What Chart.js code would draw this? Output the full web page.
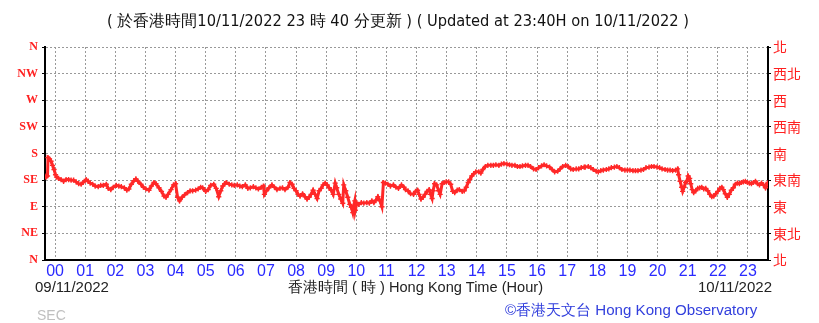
<!DOCTYPE html>
<html>
<head>
<meta charset="utf-8">
<script src="https://cdn.jsdelivr.net/npm/chart.js@4/dist/chart.umd.min.js"></script>
<style>
  html, body { margin: 0; padding: 0; background: #fff; }
  #wrap { position: relative; width: 819px; height: 323px; overflow: hidden; }
  canvas { position: absolute; left: 0; top: 0; }
  .t { position: absolute; white-space: nowrap; line-height: 1; }
</style>
</head>
<body>
<div id="wrap">
  <canvas id="c" width="819" height="323"></canvas>
  <div class="t" id="title" style="left:107px; top:13px; font-family:'Liberation Sans Narrow','DejaVu Sans Condensed',sans-serif; font-size:16.3px; color:#111;">( 於香港時間10/11/2022 23 時 40 分更新 ) ( Updated at 23:40H on 10/11/2022 )</div>
  <div class="t" style="left:35px; top:279px; font-family:'Liberation Sans Narrow',sans-serif; font-size:15px; color:#222;">09/11/2022</div>
  <div class="t" style="left:288px; top:280px; font-family:'Liberation Sans Narrow',sans-serif; font-size:14.6px; color:#222;">香港時間 ( 時 ) Hong Kong Time (Hour)</div>
  <div class="t" style="right:47px; top:279px; font-family:'Liberation Sans Narrow',sans-serif; font-size:15px; color:#222;">10/11/2022</div>
  <div class="t" style="left:37px; top:308px; font-family:'Liberation Sans Narrow',sans-serif; font-size:14px; color:#c0c0c0;">SEC</div>
  <div class="t" style="left:505px; top:302px; font-family:'Liberation Sans Narrow',sans-serif; font-size:15.1px; color:#3340dd;">©香港天文台 Hong Kong Observatory</div>
</div>
<script>
// ---- data ----
const hourLabels = ['00','01','02','03','04','05','06','07','08','09','10','11','12','13','14','15','16','17','18','19','20','21','22','23'];
const dirLabelsEn = ['N','NE','E','SE','S','SW','W','NW','N'];
const dirLabelsZh = ['北','東北','東','東南','南','西南','西','西北','北'];

// minutes after 00:00 on 10/11/2022 (negative = 09/11/2022)
const timeMinutes = [
 -20,-18,-15,-14,-11,-8,-5,-2,1,3,7,12,17,22,27,32,37,42,47,52,56,62,66,70,75,80,86,91,96,102,106,111,116,122,127,132,138,143,147,152,157,161,165,171,176,181,187,192,197,201,207,212,217,221,225,231,236,240,244,248,253,258,264,269,274,280,285,290,294,300,305,310,316,321,326,330,334,338,
 341,347,352,357,363,368,373,379,384,389,395,400,405,411,415,417,421,426,432,437,442,448,453,458,464,468,472,476,480,484,488,493,498,502,506,510,514,518,522,526,530,534,538,542,546,550,554,558,561,565,569,573,575,579,583,587,590,593,595,597,598,601,605,610,615,621,626,631,635,639,643,647,651,654,658,663,668,674,679,684,690,695,
 698,703,708,714,718,722,725,729,733,737,741,745,748,751,753,756,760,764,767,771,775,779,784,788,792,796,801,805,811,815,819,823,826,830,834,838,844,848,852,857,862,868,873,878,884,889,894,900,905,910,916,921,926,931,937,942,947,953,958,963,969,974,979,985,990,995,1001,1006,1011,1017,1022,1027,1032,1038,1043,1048,1054,
 1056,1062,1067,1072,1078,1082,1087,1092,1098,1103,1108,1114,1119,1124,1129,1135,1140,1145,1151,1156,1161,1167,1172,1177,1183,1188,1193,1199,1204,1209,1215,1220,1225,1230,1236,1240,1242,1245,1248,1250,1253,1256,1258,1261,1264,1266,1269,1272,1276,1280,1284,1288,1292,1296,1300,1304,1308,1312,1316,1320,1324,1328,1331,1335,1339,1343,1347,1351,1355,1359,1363,1367,1371,1375,1379,1383,1387,1391,1395,1399,1403,1407,1411,1415,1419,1420
];
// wind direction in degrees
const windDirection = [
 142,140,142,173,171,167,160,153,144,140,138,136,133,136,136,135,135,132,129,128,131,136,133,130,128,125,124,126,126,128,121,119,123,126,125,124,122,118,120,128,134,137,133,128,123,120,118,125,131,129,122,116,108,106,111,119,127,129,106,100,106,110,114,117,117,118,120,123,122,116,119,126,128,121,107,117,125,129,
 131,128,127,126,127,125,124,127,121,122,124,122,120,123,125,111,117,122,127,123,119,121,122,119,123,131,128,121,117,111,108,112,107,103,106,111,118,111,104,117,121,127,130,127,122,118,111,130,122,111,103,96,127,117,106,94,89,80,92,100,84,96,94,97,96,97,96,100,97,101,107,100,90,131,130,128,125,127,123,121,127,123,
 119,117,112,111,116,118,111,103,106,111,116,119,111,104,117,129,127,117,111,129,131,132,132,128,116,114,118,119,116,117,123,131,136,142,146,149,149,147,153,158,160,160,160,161,160,162,163,162,161,160,160,158,158,159,160,160,158,154,153,156,159,161,159,157,153,149,150,154,158,160,158,154,153,154,154,156,157,
 157,158,156,153,150,149,151,152,153,154,156,157,158,156,153,152,152,152,151,151,151,152,153,156,157,158,158,157,156,154,153,152,152,151,152,154,144,133,123,116,123,131,133,142,138,129,119,114,117,121,122,123,120,121,117,111,107,108,112,116,121,123,119,112,106,111,118,122,128,130,129,131,132,133,131,130,129,131,133,129,127,130,127,122,129,131
];

const points = timeMinutes.map((m, i) => ({ x: m, y: windDirection[i] }));
const RED = 'rgb(255,40,40)';

new Chart(document.getElementById('c'), {
  type: 'scatter',
  data: {
    datasets: [{
      data: points,
      showLine: true,
      borderColor: RED,
      backgroundColor: RED,
      borderWidth: 3,
      pointStyle: 'cross',
      pointRadius: 2.6,
      pointBorderWidth: 1.4,
      pointHoverRadius: 2.6,
      tension: 0,
      yAxisID: 'y'
    }]
  },
  options: {
    responsive: false,
    animation: false,
    events: [],
    layout: { padding: { top: 47, left: 0, right: 0, bottom: 0 } },
    plugins: { legend: { display: false }, tooltip: { enabled: false }, title: { display: false } },
    scales: {
      x: {
        type: 'linear',
        min: -20,
        max: 1420,
        afterBuildTicks: (s) => { s.ticks = hourLabels.map((_, i) => ({ value: i * 60 })); },
        afterFit: (s) => { s.height = 63; },
        border: { display: true, color: '#000', width: 2, dash: [2, 2] },
        grid: { color: '#999', lineWidth: 1, drawTicks: false, tickLength: 0 },
        ticks: {
          autoSkip: false, maxRotation: 0, padding: 2,
          color: '#2a2aff',
          font: { family: "'Liberation Sans Narrow', sans-serif", size: 16 },
          callback: (v) => hourLabels[Math.round(v / 60)]
        }
      },
      y: {
        position: 'left',
        min: 0, max: 360,
        afterBuildTicks: (s) => { s.ticks = dirLabelsEn.map((_, i) => ({ value: i * 45 })); },
        afterFit: (s) => { s.width = 45; },
        border: { display: true, color: '#000', width: 2, dash: [2, 2] },
        grid: { color: '#999', lineWidth: 1, drawTicks: true, tickLength: 3, tickColor: '#000', tickBorderDash: [] },
        ticks: {
          padding: 4,
          color: '#ff2020',
          font: { family: "'Liberation Serif', serif", size: 12, weight: 'bold' },
          callback: (v) => dirLabelsEn[Math.round(v / 45)]
        }
      },
      y2: {
        position: 'right',
        min: 0, max: 360,
        afterBuildTicks: (s) => { s.ticks = dirLabelsZh.map((_, i) => ({ value: i * 45 })); },
        afterFit: (s) => { s.width = 51; },
        border: { display: true, color: '#000', width: 2 },
        grid: { drawOnChartArea: false, drawTicks: true, tickLength: 3, tickColor: '#000' },
        ticks: {
          padding: 2,
          color: '#ff2020',
          font: { family: "'Noto Sans CJK TC', sans-serif", size: 14 },
          callback: (v) => dirLabelsZh[Math.round(v / 45)]
        }
      }
    }
  }
});
</script>
</body>
</html>
